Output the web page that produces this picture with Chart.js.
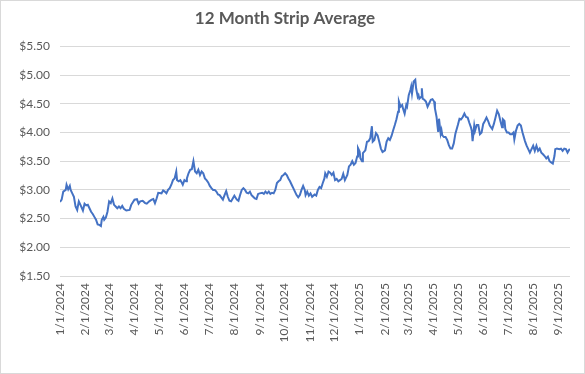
<!DOCTYPE html>
<html><head><meta charset="utf-8">
<script src="https://cdn.jsdelivr.net/npm/chart.js@4"></script>
<style>html,body{margin:0;padding:0;background:#fff}#wrap{width:585px;height:374px;position:relative}</style>
</head><body><div id="wrap"><canvas id="c" width="585" height="374"></canvas></div>
<script>
// Days since 1/1/2024 for each observation
const days = [
0,2,4,7,8,10,12,13,15,17,19,21,23,25,28,30,32,34,36,38,40,42,44,46,48,50,51,53,54,56,58,60,62,64,66,68,70,72,74,76,78,81,85,87,91,94,96,98,101,104,106,109,112,114,116,118,120,
124,126,128,130,132,134,136,138,140,142,143,145,147,149,150,152,154,155,157,159,161,163,164,165,167,169,171,173,175,177,179,181,183,185,187,189,191,193,195,197,199,201,203,205,207,209,211,213,216,218,220,222,224,226,228,230,232,234,236,238,240,242,244,
247,249,251,253,255,257,259,261,263,265,267,269,271,273,275,277,279,281,283,285,287,289,291,293,295,297,299,300,302,304,306,308,311,313,315,317,319,321,323,324,326,328,330,332,334,336,338,340,342,344,346,348,349,351,353,355,357,359,361,363,364,366,367,369,370,
373,375,377,379,381,382,384,386,388,390,392,394,397,399,401,403,405,407,409,411,413,414,416,418,419,421,423,424,426,428,429,430,432,434,435,437,438,439,441,442,443,445,447,449,451,453,455,457,458,460,461,462,463,465,466,467,469,471,473,475,477,479,481,483,486,488,490,492,494,496,
498,500,502,503,504,506,507,509,511,513,515,517,519,521,523,525,528,530,532,534,536,538,540,541,543,544,546,548,550,552,554,555,557,559,561,563,565,568,570,572,574,576,578,580,582,584,586,588,590,592,594,596,598,600,602,604,605,607,610,612,614,616,618,620,622,623
];
const prices = [
2.79,2.83,2.97,3.00,3.09,3.01,3.07,3.00,2.94,2.88,2.71,2.65,2.80,2.74,2.64,2.76,2.73,2.74,2.68,2.62,2.58,2.53,2.48,2.40,2.39,2.37,2.48,2.53,2.48,2.52,2.62,2.80,2.77,2.85,2.74,2.71,2.68,2.71,2.68,2.72,2.67,2.64,2.65,2.74,2.83,2.84,2.76,2.80,2.81,2.77,2.76,2.80,2.83,2.84,2.77,2.85,2.95,
2.94,2.99,2.97,2.94,3.00,3.03,3.09,3.17,3.20,3.32,3.17,3.15,3.17,3.12,3.09,3.17,3.15,3.20,3.29,3.35,3.36,3.50,3.41,3.32,3.29,3.35,3.26,3.32,3.29,3.20,3.17,3.13,3.07,3.03,3.00,3.00,2.97,2.92,2.91,2.87,2.83,2.91,2.98,2.88,2.81,2.80,2.85,2.90,2.83,2.81,2.91,3.00,3.03,3.00,2.95,2.94,2.97,2.91,2.88,2.85,2.84,2.93,2.94,
2.95,2.93,2.97,2.94,2.97,2.93,2.95,2.94,3.00,3.12,3.15,3.17,3.24,3.26,3.29,3.26,3.20,3.15,3.09,3.03,2.97,2.91,2.87,2.91,3.00,3.07,3.00,2.91,2.97,2.90,2.94,2.88,2.92,2.90,3.00,3.05,3.03,3.12,3.20,3.29,3.23,3.32,3.30,3.26,3.30,3.17,3.19,3.15,3.17,3.19,3.28,3.17,3.20,3.26,3.41,3.44,3.50,3.44,3.47,3.58,3.73,3.67,3.55,3.50,3.64,
3.69,3.84,3.85,3.90,4.11,3.84,3.87,3.99,3.95,3.84,3.72,3.66,3.69,3.84,3.90,3.87,3.94,4.04,4.13,4.23,4.36,4.54,4.45,4.48,4.42,4.33,4.48,4.45,4.65,4.74,4.80,4.68,4.89,4.92,4.77,4.62,4.65,4.59,4.62,4.77,4.59,4.57,4.54,4.45,4.51,4.57,4.58,4.54,4.42,4.27,4.13,4.01,4.24,3.98,4.04,3.95,3.92,3.92,3.87,3.78,3.72,3.72,3.81,3.98,4.13,4.24,4.23,4.27,4.33,4.27,
4.26,4.17,4.09,4.03,3.85,4.12,4.03,4.13,4.13,3.97,4.00,4.15,4.20,4.26,4.20,4.12,4.06,4.15,4.26,4.38,4.32,4.20,4.09,4.23,4.20,4.06,4.00,4.00,3.97,3.97,4.00,3.88,4.03,4.12,4.15,4.12,4.00,3.85,3.77,3.71,3.65,3.71,3.77,3.68,3.77,3.68,3.72,3.65,3.62,3.59,3.55,3.58,3.50,3.48,3.46,3.59,3.71,3.72,3.71,3.72,3.68,3.72,3.71,3.65,3.70,3.71
];
const monthLabels = ["1/1/2024","2/1/2024","3/1/2024","4/1/2024","5/1/2024","6/1/2024","7/1/2024","8/1/2024","9/1/2024","10/1/2024","11/1/2024","12/1/2024","1/1/2025","2/1/2025","3/1/2025","4/1/2025","5/1/2025","6/1/2025","7/1/2025","8/1/2025","9/1/2025"];
const yTicks = [1.5,2.0,2.5,3.0,3.5,4.0,4.5,5.0,5.5];
const chartTitle = "12 Month Strip Average";

if (days.length !== prices.length) console.warn('length mismatch', days.length, prices.length);

const start = Date.UTC(2024,0,1);
const dayOf = s => { const p = s.split('/').map(Number); return Math.round((Date.UTC(p[2],p[0]-1,p[1]) - start)/86400000); };
const monthTicks = monthLabels.map(dayOf);

const frame = {
  id:'frame',
  beforeDraw(chart){
    const c = chart.ctx;
    c.save();
    c.fillStyle = '#ffffff';
    c.fillRect(0,0,chart.width,chart.height);
    c.strokeStyle = '#d9d9d9';
    c.lineWidth = 1;
    c.strokeRect(0.5,0.5,chart.width-1,chart.height-1);
    c.restore();
  }
};

new Chart(document.getElementById('c'), {
  type:'line',
  data:{datasets:[{
    data: days.map((d,i)=>({x:d,y:prices[i]})),
    borderColor:'#4472C4', borderWidth:2, pointRadius:0, tension:0, fill:false
  }]},
  options:{
    responsive:false, animation:false, devicePixelRatio:1,
    layout:{padding:{left:0,right:15,top:0,bottom:26}},
    plugins:{
      legend:{display:false}, tooltip:{enabled:false},
      title:{display:true,text:chartTitle,color:'#595959',font:{family:'Lato',size:17,weight:'bold'},padding:{top:8,bottom:18}}
    },
    scales:{
      x:{type:'linear',min:0,max:days[days.length-1],
        afterBuildTicks:s=>{s.ticks = monthTicks.map(v=>({value:v}));},
        ticks:{autoSkip:false,minRotation:90,maxRotation:90,padding:7,color:'#595959',font:{family:'Lato',size:12},callback:(v,i)=>monthLabels[i]},
        grid:{display:false,drawTicks:false}, border:{display:false},
        afterFit:s=>{s.height=72;}
      },
      y:{min:1.5,max:5.5,
        afterBuildTicks:s=>{s.ticks = yTicks.map(v=>({value:v}));},
        ticks:{padding:10,color:'#595959',font:{family:'Lato',size:12},callback:v=>'$'+Number(v).toFixed(2)},
        grid:{color:'#d9d9d9',lineWidth:1,drawTicks:false}, border:{display:false},
        afterFit:s=>{s.width=60;}
      }
    }
  },
  plugins:[frame]
});
</script></body></html>
